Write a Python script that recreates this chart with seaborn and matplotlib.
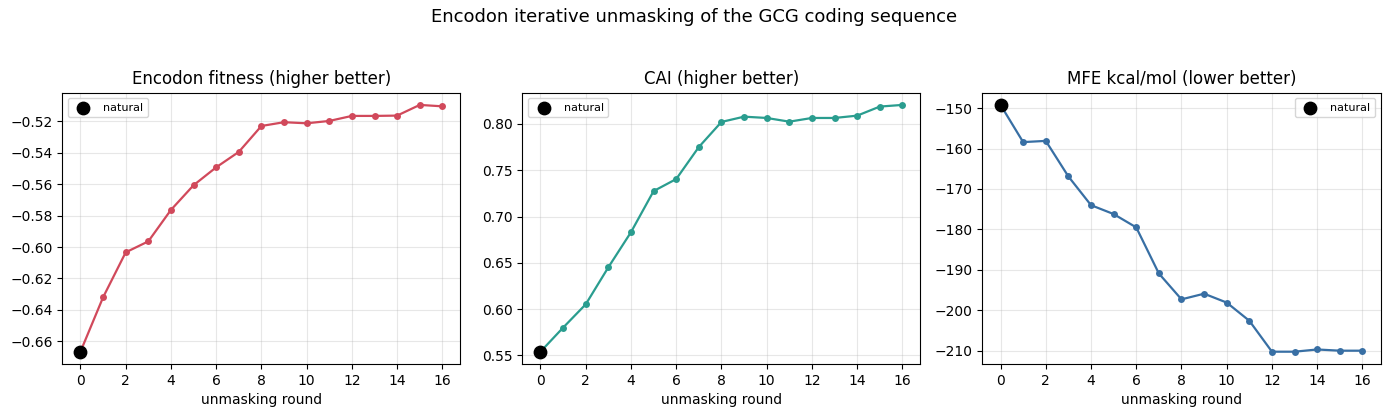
import numpy as np
import pandas as pd
import matplotlib
matplotlib.use("Agg")
import matplotlib.pyplot as plt
import seaborn as sns

rounds = list(range(17))
fitness = [-0.6666, -0.632, -0.6034, -0.5964, -0.5764, -0.5607, -0.5493, -0.5395,
           -0.523, -0.5206, -0.5213, -0.5198, -0.5166, -0.5166, -0.5164, -0.5096, -0.5105]
cai = [0.554, 0.580, 0.6052, 0.6452, 0.6831, 0.7275, 0.7405, 0.7751, 0.8022,
       0.8079, 0.8065, 0.8025, 0.8065, 0.8065, 0.809, 0.8188, 0.8206]
mfe = [-149.2, -158.4, -158.1, -166.9, -174.0, -176.2, -179.5, -190.9, -197.3,
       -195.9, -198.1, -202.6, -210.25, -210.25, -209.7, -210.0, -210.0]

titles = ["Encodon fitness (higher better)", "CAI (higher better)", "MFE kcal/mol (lower better)"]
colors = ["#d1495b", "#2a9d8f", "#386fa4"]
legend_locs = ["upper left", "upper left", "upper right"]
series = [fitness, cai, mfe]

fig, axes = plt.subplots(1, 3, figsize=(13.89, 4.17), dpi=100)
for ax, vals, title, color, loc in zip(axes, series, titles, colors, legend_locs):
    df = pd.DataFrame({"round": rounds, "value": vals})
    sns.lineplot(data=df, x="round", y="value", ax=ax, color=color, marker="o",
                 markersize=5, markeredgewidth=0, linewidth=1.6)
    ax.scatter([rounds[0]], [vals[0]], s=80, color="black", zorder=5, label="natural")
    ax.set_title(title, fontsize=12)
    ax.set_xlabel("unmasking round")
    ax.set_ylabel("")
    ax.set_xticks(range(0, 17, 2))
    ax.grid(True, alpha=0.3)
    ax.legend(loc=loc, fontsize=8)

fig.suptitle("Encodon iterative unmasking of the GCG coding sequence", fontsize=13, y=0.98)
fig.subplots_adjust(left=0.0449, right=0.9939, top=0.778, bottom=0.127, wspace=0.1556)
fig.savefig("out.png", dpi=100)
